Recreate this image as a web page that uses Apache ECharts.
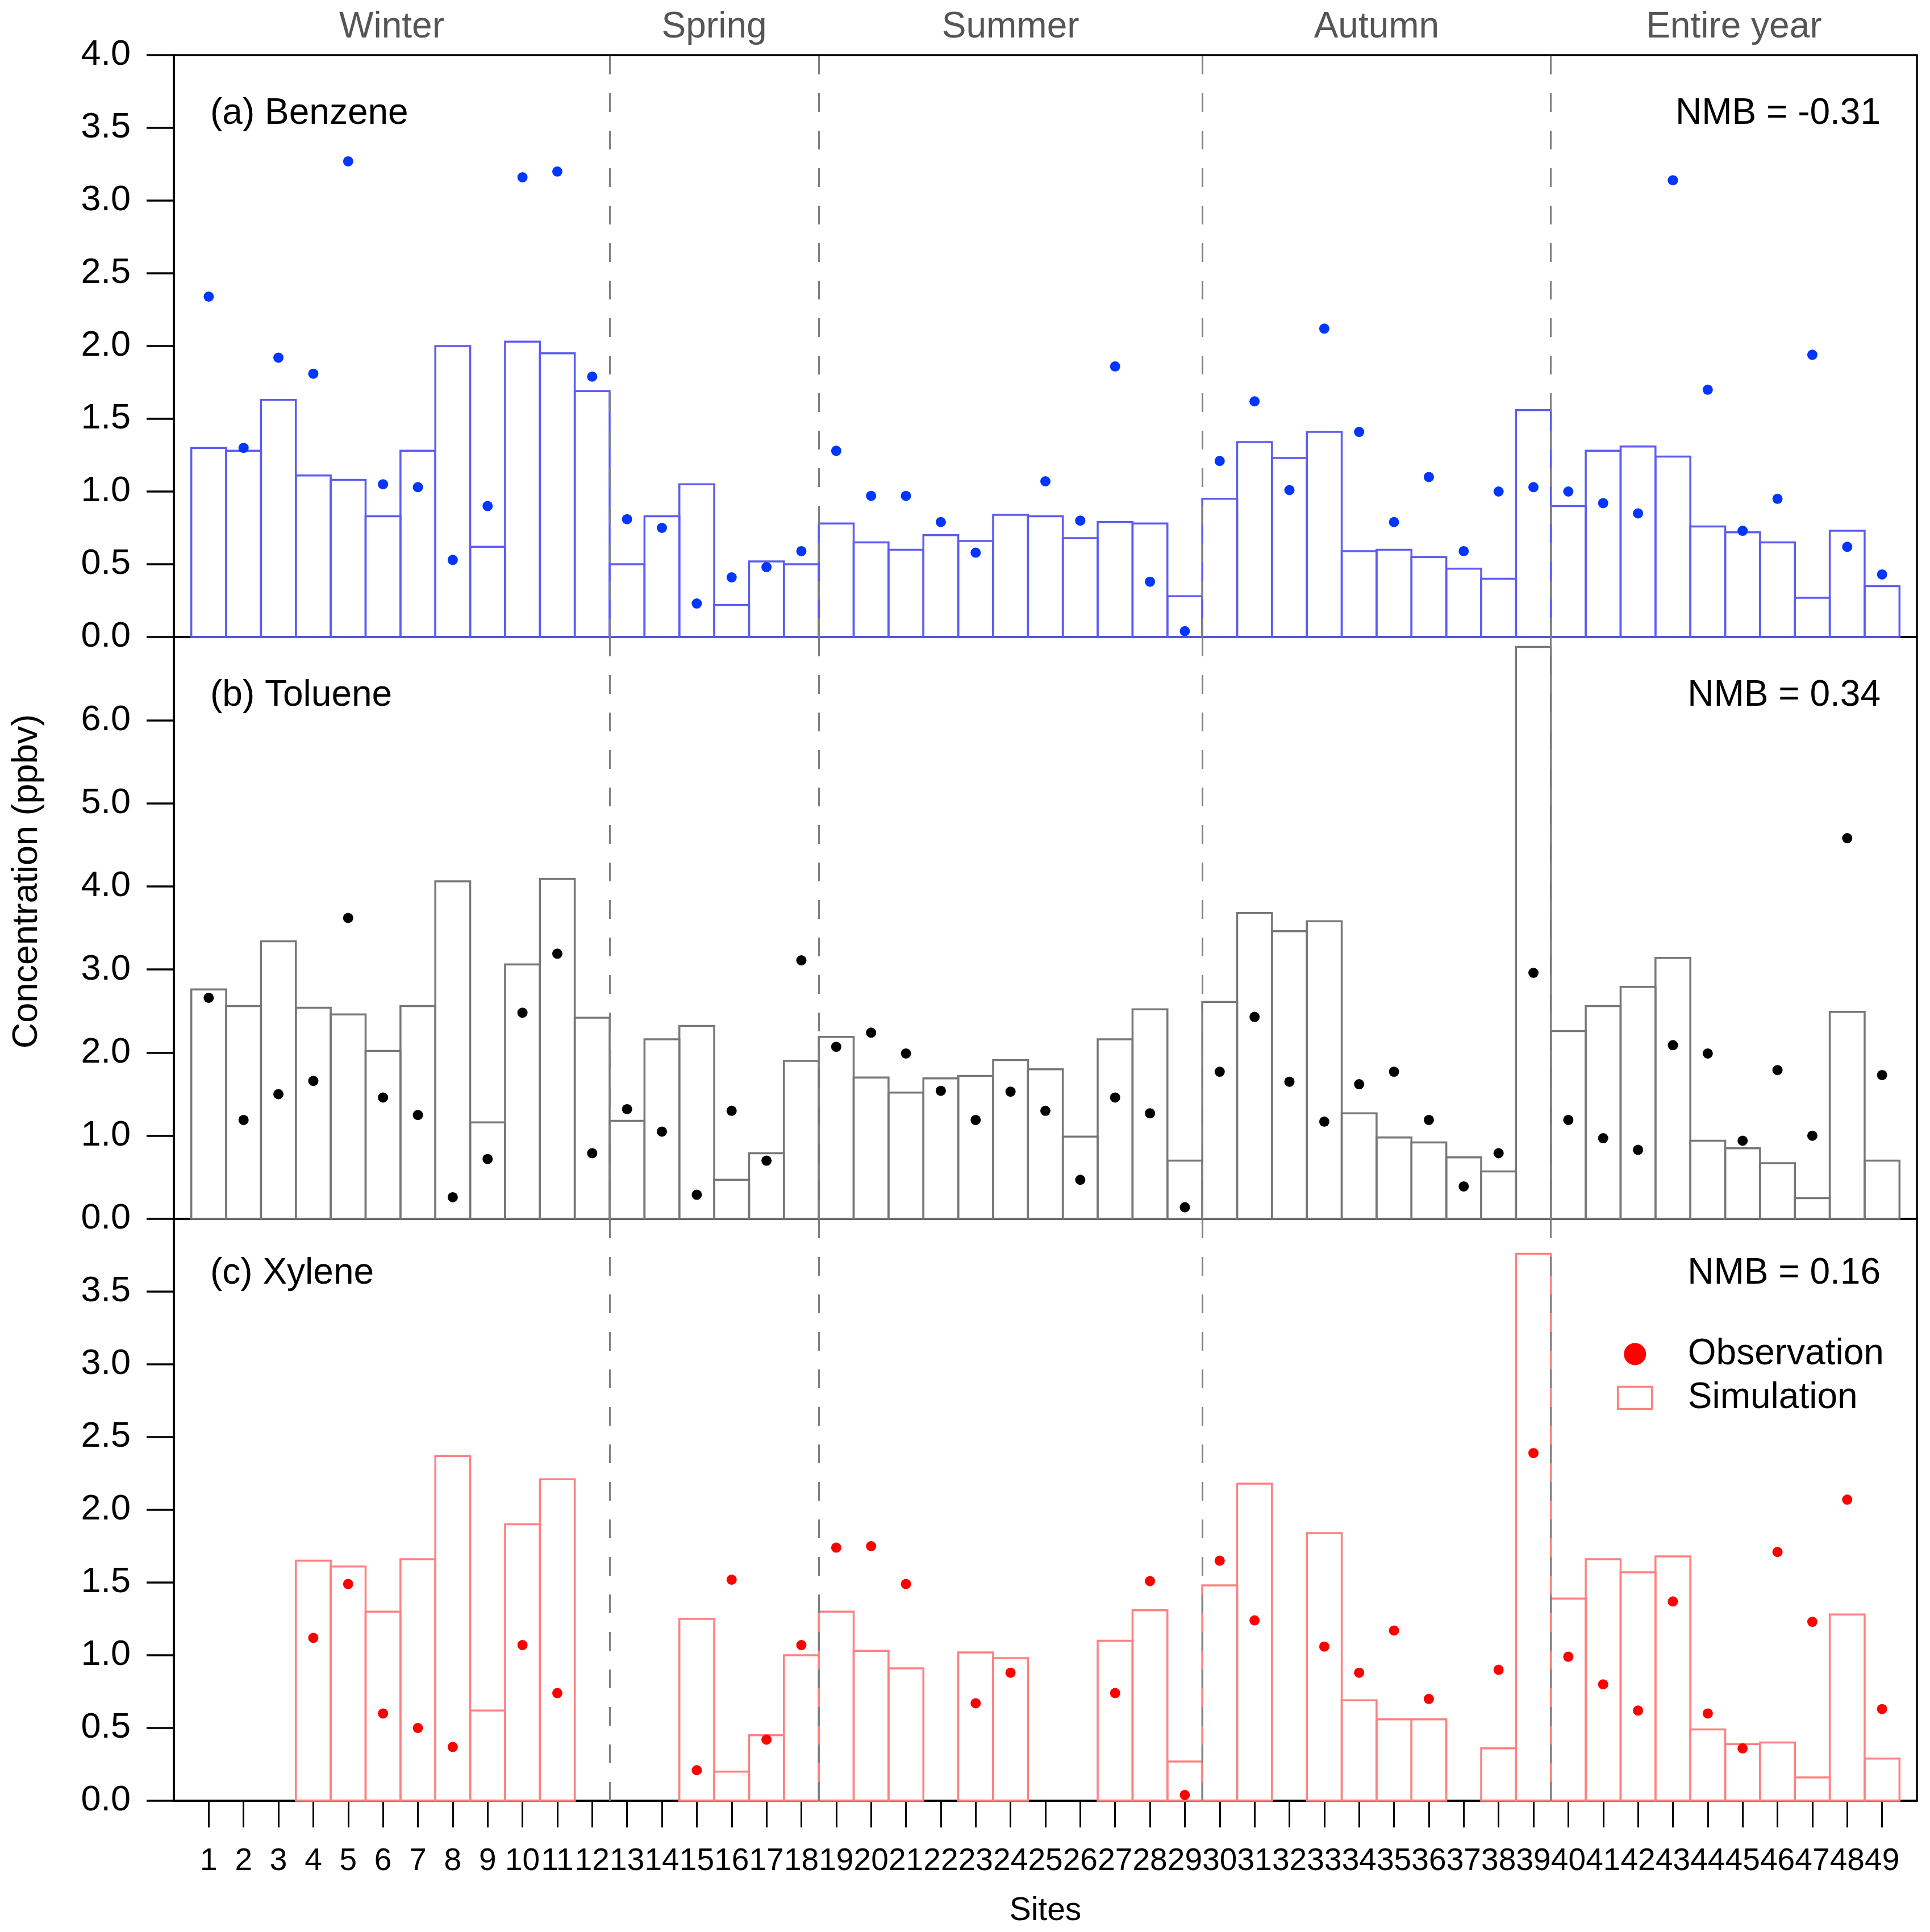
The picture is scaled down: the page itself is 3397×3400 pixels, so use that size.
<!DOCTYPE html>
<html>
<head>
<meta charset="utf-8">
<script src="https://cdn.jsdelivr.net/npm/echarts@6/dist/echarts.min.js"></script>
<style>
html,body{margin:0;padding:0;background:#ffffff;}
#chart{width:3397px;height:3400px;}
</style>
</head>
<body>
<div id="chart"></div>
<script>
// ---------------- data ----------------
const sites = [1,2,3,4,5,6,7,8,9,10,11,12,13,14,15,16,17,18,19,20,21,22,23,24,25,
  26,27,28,29,30,31,32,33,34,35,36,37,38,39,40,41,42,43,44,45,46,47,48,49];
const seasonNames = ['Winter','Spring','Summer','Autumn','Entire year'];
const seasonBounds = [0,12.5,18.5,29.5,39.5,50];

const benzeneSim = [1.30,1.28,1.63,1.11,1.08,0.83,1.28,2.00,0.62,2.03,1.95,1.69,
  0.50,0.83,1.05,0.22,0.52,0.50,0.78,0.65,0.60,0.70,0.66,0.84,0.83,0.68,0.79,0.78,0.28,
  0.95,1.34,1.23,1.41,0.59,0.60,0.55,0.47,0.40,1.56,0.90,1.28,1.31,1.24,0.76,0.72,0.65,0.27,0.73,0.35];
const benzeneObs = [2.34,1.30,1.92,1.81,3.27,1.05,1.03,0.53,0.90,3.16,3.20,1.79,
  0.81,0.75,0.23,0.41,0.48,0.59,1.28,0.97,0.97,0.79,0.58,null,1.07,0.80,1.86,0.38,0.04,
  1.21,1.62,1.01,2.12,1.41,0.79,1.10,0.59,1.00,1.03,1.00,0.92,0.85,3.14,1.70,0.73,0.95,1.94,0.62,0.43];

const tolueneSim = [2.76,2.56,3.34,2.54,2.46,2.02,2.56,4.06,1.16,3.06,4.09,2.42,
  1.18,2.16,2.32,0.47,0.79,1.90,2.19,1.70,1.52,1.69,1.72,1.91,1.80,0.99,2.16,2.52,0.70,
  2.61,3.68,3.46,3.58,1.27,0.98,0.92,0.74,0.57,6.88,2.26,2.56,2.79,3.14,0.94,0.85,0.67,0.25,2.49,0.70];
const tolueneObs = [2.66,1.19,1.50,1.66,3.62,1.46,1.25,0.26,0.72,2.48,3.19,0.79,
  1.32,1.05,0.29,1.30,0.70,3.11,2.07,2.24,1.99,1.54,1.19,1.53,1.30,0.47,1.46,1.27,0.14,
  1.77,2.43,1.65,1.17,1.62,1.77,1.19,0.39,0.79,2.96,1.19,0.97,0.83,2.09,1.99,0.94,1.79,1.00,4.58,1.73];

const xyleneSim = [null,null,null,1.65,1.61,1.30,1.66,2.37,0.62,1.90,2.21,null,
  null,null,1.25,0.20,0.45,1.00,1.30,1.03,0.91,null,1.02,0.98,null,null,1.10,1.31,0.27,
  1.48,2.18,null,1.84,0.69,0.56,0.56,null,0.36,3.76,1.39,1.66,1.57,1.68,0.49,0.39,0.40,0.16,1.28,0.29];
const xyleneObs = [null,null,null,1.12,1.49,0.60,0.50,0.37,null,1.07,0.74,null,
  null,null,0.21,1.52,0.42,1.07,1.74,1.75,1.49,null,0.67,0.88,null,null,0.74,1.51,0.04,
  1.65,1.24,null,1.06,0.88,1.17,0.70,null,0.90,2.39,0.99,0.80,0.62,1.37,0.60,0.36,1.71,1.23,2.07,0.63];

const panelTitles = ['(a) Benzene','(b) Toluene','(c) Xylene'];
const nmbTexts = ['NMB = -0.31','NMB = 0.34','NMB = 0.16'];
const yMax = [4, 7, 4];
const yInterval = [0.5, 1, 0.5];

// ---------------- layout / style ----------------
const FONT = '"Liberation Sans", Arial, Helvetica, sans-serif';
const LEFT = 306, RIGHT = 23, H = 1024;
const TOPS = [97, 1121, 2145];
const TEXT_OFFSET = [103, 103, 96];
const simColors = ['#5c5cf2', '#777777', '#ff8080'];
const obsColors = ['#0036ff', '#000000', '#ff0000'];
const simData = [benzeneSim, tolueneSim, xyleneSim];
const obsData = [benzeneObs, tolueneObs, xyleneObs];

function pairs(vals) {
  const out = [];
  sites.forEach((s, i) => { if (vals[i] !== null && vals[i] !== undefined) out.push([s, vals[i]]); });
  return out;
}

function makeRender(color) {
  return function (params, api) {
    const x = api.value(0), v = api.value(1);
    const p0 = api.coord([x - 0.5, v]);
    const p1 = api.coord([x + 0.5, 0]);
    return {
      type: 'rect',
      shape: { x: p0[0], y: p0[1], width: p1[0] - p0[0], height: p1[1] - p0[1] },
      style: { fill: 'rgba(255,255,255,0)', stroke: color, lineWidth: 3.5 }
    };
  };
}

const seasonCenters = seasonNames.map((n, i) => (seasonBounds[i] + seasonBounds[i + 1]) / 2);
const dividers = seasonBounds.slice(1, -1);

const grids = TOPS.map(t => ({
  left: LEFT, right: RIGHT, top: t, height: H,
  show: true, borderColor: '#000', borderWidth: 3.5, backgroundColor: 'transparent'
}));

const xAxes = [0, 1, 2].map(p => ({
  type: 'value', gridIndex: p, min: 0, max: 50, interval: 1,
  axisLine: { show: true, onZero: false, lineStyle: { color: '#000', width: 3.5 } },
  axisTick: p === 2 ? { show: true, length: 47, customValues: sites, lineStyle: { color: '#000', width: 3 } } : { show: false },
  axisLabel: p === 2 ? {
    show: true, customValues: sites, margin: 79, fontSize: 55, fontFamily: FONT, color: '#000',
    showMinLabel: true, showMaxLabel: true, hideOverlap: false
  } : { show: false },
  splitLine: { show: false },
  name: p === 2 ? 'Sites' : '',
  nameLocation: 'middle', nameGap: 166,
  nameTextStyle: { fontSize: 57, fontFamily: FONT, color: '#000' }
}));
xAxes.push({
  type: 'value', gridIndex: 0, position: 'top', min: 0, max: 50,
  axisLine: { show: false }, axisTick: { show: false }, splitLine: { show: false },
  axisLabel: {
    show: true, customValues: seasonCenters, margin: 17,
    fontSize: 64, fontFamily: FONT, color: '#555555',
    showMinLabel: true, showMaxLabel: true,
    formatter: v => { const k = seasonCenters.findIndex(c => Math.abs(c - v) < 1e-6); return k >= 0 ? seasonNames[k] : ''; }
  }
});

const yAxes = [0, 1, 2].map(p => ({
  type: 'value', gridIndex: p, min: 0, max: yMax[p], interval: yInterval[p],
  axisLine: { show: true, lineStyle: { color: '#000', width: 3.5 } },
  axisTick: { show: true, length: 48, lineStyle: { color: '#000', width: 3.5 } },
  axisLabel: {
    margin: 76, fontSize: 63, fontFamily: FONT, color: '#000',
    showMinLabel: true, showMaxLabel: true,
    formatter: v => (p > 0 && v >= yMax[p] - 1e-9) ? '' : v.toFixed(1)
  },
  splitLine: { show: false }
}));

const series = [];
[0, 1, 2].forEach(p => {
  series.push({
    type: 'custom', name: p === 2 ? 'Simulation' : panelTitles[p] + ' simulation',
    xAxisIndex: p, yAxisIndex: p, z: 2,
    renderItem: makeRender(simColors[p]),
    itemStyle: { color: simColors[p] },
    data: pairs(simData[p]), silent: true, animation: false
  });
  series.push({
    type: 'scatter', name: p === 2 ? 'Observation' : panelTitles[p] + ' observation',
    xAxisIndex: p, yAxisIndex: p, z: 4,
    symbol: 'circle', symbolSize: 18,
    itemStyle: { color: obsColors[p], opacity: 1 },
    data: pairs(obsData[p]), silent: true, animation: false,
    markLine: {
      silent: true, symbol: ['none', 'none'], animation: false, z: 3,
      label: { show: false },
      lineStyle: { color: '#808080', width: 3, type: [33, 33], opacity: 1 },
      data: dividers.map(d => ({ xAxis: d }))
    }
  });
});

const graphics = [];
[0, 1, 2].forEach(p => {
  graphics.push({
    type: 'text', x: 370, y: TOPS[p] + TEXT_OFFSET[p], z: 10,
    style: { text: panelTitles[p], font: '64px ' + FONT, fill: '#000', textAlign: 'left', textVerticalAlign: 'middle' }
  });
  graphics.push({
    type: 'text', x: 3310, y: TOPS[p] + TEXT_OFFSET[p], z: 10,
    style: { text: nmbTexts[p], font: '64px ' + FONT, fill: '#000', textAlign: 'right', textVerticalAlign: 'middle' }
  });
});
graphics.push({
  type: 'text', x: 48, y: 1551, rotation: Math.PI / 2, z: 10,
  style: { text: 'Concentration (ppbv)', font: '63px ' + FONT, fill: '#000', textAlign: 'center', textVerticalAlign: 'middle' }
});

const option = {
  backgroundColor: '#ffffff',
  animation: false,
  grid: grids,
  xAxis: xAxes,
  yAxis: yAxes,
  legend: {
    orient: 'vertical', left: 2841, top: 2346,
    itemWidth: 60, itemHeight: 39, itemGap: 13, selectedMode: false,
    textStyle: { fontSize: 64, lineHeight: 39, fontFamily: FONT, color: '#000', padding: [0, 0, 0, 58] },
    data: [
      { name: 'Observation', icon: 'circle', itemStyle: { color: '#ff0000', opacity: 1 } },
      { name: 'Simulation', icon: 'rect', itemStyle: { color: '#ffffff', borderColor: '#ff8080', borderWidth: 3.5 } }
    ]
  },
  graphic: graphics,
  series: series
};

const chart = echarts.init(document.getElementById('chart'), null, { renderer: 'canvas' });
chart.setOption(option);
</script>
</body>
</html>
